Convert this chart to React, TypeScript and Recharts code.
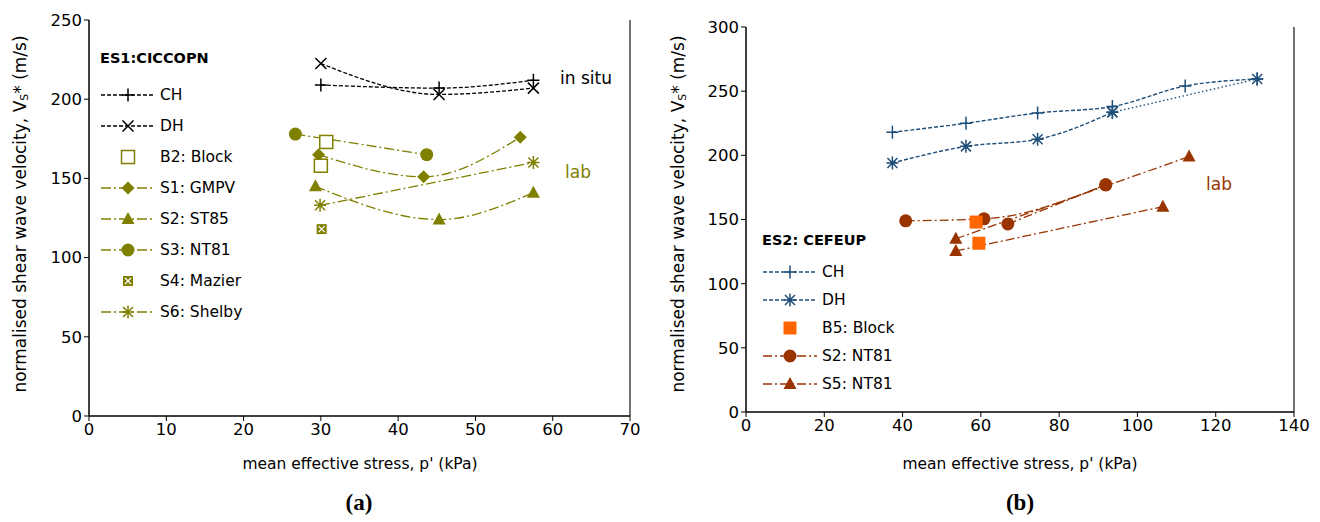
import React from "react";
import {
  ComposedChart,
  Line,
  XAxis,
  YAxis,
  ReferenceLine,
} from "recharts";

// ---------- data: chart (a) ES1:CICCOPN ----------
const ticksA_x = [0, 10, 20, 30, 40, 50, 60, 70];
const ticksA_y = [0, 50, 100, 150, 200, 250];

const a_CH = [
  { x: 30.0, y: 209 },
  { x: 45.3, y: 207 },
  { x: 57.5, y: 212 },
];
const a_DH = [
  { x: 30.0, y: 222.5 },
  { x: 45.3, y: 203 },
  { x: 57.5, y: 207 },
];
const a_B2 = [
  { x: 30.7, y: 173 },
  { x: 30.0, y: 158 },
];
const a_S1 = [
  { x: 29.7, y: 165 },
  { x: 43.3, y: 151 },
  { x: 55.8, y: 176 },
];
const a_S2 = [
  { x: 29.3, y: 145 },
  { x: 45.3, y: 124 },
  { x: 57.5, y: 141 },
];
const a_S3 = [
  { x: 26.7, y: 178 },
  { x: 43.7, y: 165 },
];
const a_S4 = [{ x: 30.1, y: 118 }];
const a_S6 = [
  { x: 29.9, y: 133 },
  { x: 57.5, y: 160 },
];

// ---------- data: chart (b) ES2: CEFEUP ----------
const ticksB_x = [0, 20, 40, 60, 80, 100, 120, 140];
const ticksB_y = [0, 50, 100, 150, 200, 250, 300];

const b_CH = [
  { x: 37.4, y: 218 },
  { x: 56.2, y: 225 },
  { x: 74.5, y: 233 },
  { x: 93.6, y: 238 },
  { x: 112.2, y: 254 },
  { x: 130.6, y: 259.5 },
];
const b_DH = [
  { x: 37.4, y: 194 },
  { x: 56.2, y: 207 },
  { x: 74.5, y: 212.5 },
  { x: 93.6, y: 233.5 },
];
const b_DH_end = [
  { x: 93.6, y: 233.5 },
  { x: 130.6, y: 259.5 },
];
const b_B5 = [
  { x: 58.8, y: 148 },
  { x: 59.5, y: 131.5 },
];
const b_S2a = [
  { x: 40.8, y: 149 },
  { x: 60.8, y: 150.5 },
  { x: 91.9, y: 177 },
];
const b_S2b = [
  { x: 66.9, y: 146.5 },
  { x: 91.9, y: 177 },
];
const b_S5a = [
  { x: 53.6, y: 135 },
  { x: 113.2, y: 199 },
];
const b_S5b = [
  { x: 53.6, y: 125.5 },
  { x: 106.5, y: 160 },
];

// ---------- styles ----------
const OLIVE = "#808000";
const NAVY = "#1F4E79";
const BROWN = "#993300";
const ORANGE = "#FF6600";
const FONT = "'DejaVu Sans', sans-serif";

const DASH_SITU = "4 2";
const DASH_LAB = "10 3 2 3";
const DASH_LAB_B = "9 3 2 3";

// ---------- markers ----------
type M = { cx: number; cy: number; c: string };

const Plus = ({ cx, cy, c }: M) => (
  <path d={`M${cx - 6},${cy}H${cx + 6}M${cx},${cy - 6.5}V${cy + 6.5}`} stroke={c} strokeWidth={1.5} fill="none" />
);
const Cross = ({ cx, cy, c }: M) => (
  <path
    d={`M${cx - 5.5},${cy - 5.5}L${cx + 5.5},${cy + 5.5}M${cx - 5.5},${cy + 5.5}L${cx + 5.5},${cy - 5.5}`}
    stroke={c}
    strokeWidth={1.5}
    fill="none"
  />
);
const Star = ({ cx, cy, c }: M) => (
  <path
    d={`M${cx - 6},${cy}H${cx + 6}M${cx},${cy - 6.5}V${cy + 6.5}M${cx - 5},${cy - 5}L${cx + 5},${cy + 5}M${cx - 5},${cy + 5}L${cx + 5},${cy - 5}`}
    stroke={c}
    strokeWidth={1.5}
    fill="none"
  />
);
const Dot = ({ cx, cy, c }: M) => <circle cx={cx} cy={cy} r={6.5} fill={c} />;
const Diamond = ({ cx, cy, c }: M) => (
  <path d={`M${cx},${cy - 6.5}L${cx + 6.5},${cy}L${cx},${cy + 6.5}L${cx - 6.5},${cy}Z`} fill={c} />
);
const Tri = ({ cx, cy, c }: M) => (
  <path d={`M${cx},${cy - 7}L${cx + 6.5},${cy + 5}L${cx - 6.5},${cy + 5}Z`} fill={c} />
);
const OpenSq = ({ cx, cy, c }: M) => (
  <rect x={cx - 6.5} y={cy - 6.5} width={13} height={13} fill="#fff" stroke={c} strokeWidth={1.5} />
);
const FillSq = ({ cx, cy, c }: M) => <rect x={cx - 6.5} y={cy - 6.5} width={13} height={13} fill={c} />;
const Mazier = ({ cx, cy, c }: M) => (
  <g>
    <rect x={cx - 5} y={cy - 5} width={10} height={10} fill={c} />
    <path
      d={`M${cx - 3},${cy - 3}L${cx + 3},${cy + 3}M${cx - 3},${cy + 3}L${cx + 3},${cy - 3}`}
      stroke="#fff"
      strokeWidth={1.3}
    />
  </g>
);

const dotOf = (Shape: (m: M) => React.ReactElement, c: string) => (p: any) =>
  p.cx == null ? <g key={p.index} /> : <g key={p.index}><Shape cx={p.cx} cy={p.cy} c={c} /></g>;

// ---------- legend ----------
type Item = { label: string; color: string; dash?: string; Shape: (m: M) => React.ReactElement; mc: string };

const legendA: Item[] = [
  { label: "CH", color: "#000", dash: DASH_SITU, Shape: Plus, mc: "#000" },
  { label: "DH", color: "#000", dash: DASH_SITU, Shape: Cross, mc: "#000" },
  { label: "B2: Block", color: OLIVE, Shape: OpenSq, mc: OLIVE },
  { label: "S1: GMPV", color: OLIVE, dash: DASH_LAB, Shape: Diamond, mc: OLIVE },
  { label: "S2: ST85", color: OLIVE, dash: DASH_LAB, Shape: Tri, mc: OLIVE },
  { label: "S3: NT81", color: OLIVE, dash: DASH_LAB, Shape: Dot, mc: OLIVE },
  { label: "S4: Mazier", color: OLIVE, Shape: Mazier, mc: OLIVE },
  { label: "S6: Shelby", color: OLIVE, dash: DASH_LAB, Shape: Star, mc: OLIVE },
];

const legendB: Item[] = [
  { label: "CH", color: NAVY, dash: DASH_SITU, Shape: Plus, mc: NAVY },
  { label: "DH", color: NAVY, dash: DASH_SITU, Shape: Star, mc: NAVY },
  { label: "B5: Block", color: ORANGE, Shape: FillSq, mc: ORANGE },
  { label: "S2: NT81", color: BROWN, dash: DASH_LAB_B, Shape: Dot, mc: BROWN },
  { label: "S5: NT81", color: BROWN, dash: DASH_LAB_B, Shape: Tri, mc: BROWN },
];

function LegendBox({ title, items, left, top, step }: { title: string; items: Item[]; left: number; top: number; step: number }) {
  return (
    <div style={{ position: "absolute", left, top, fontFamily: FONT, fontSize: 15.5, color: "#000" }}>
      <div style={{ fontWeight: "bold", fontSize: 14.5, height: 24, lineHeight: "24px", marginBottom: step - 22 }}>{title}</div>
      {items.map((it) => (
        <div key={it.label} style={{ display: "flex", alignItems: "center", height: step }}>
          <svg width={56} height={16} style={{ display: "block" }}>
            {it.dash && <line x1={1} y1={8} x2={55} y2={8} stroke={it.color} strokeWidth={1.3} strokeDasharray={it.dash} />}
            <it.Shape cx={28} cy={8} c={it.mc} />
          </svg>
          <span style={{ marginLeft: 4 }}>{it.label}</span>
        </div>
      ))}
    </div>
  );
}

// ---------- axis label ----------
const yLabel = (x: number, cy: number) => () => (
  <text x={x} y={cy} transform={`rotate(-90 ${x} ${cy})`} textAnchor="middle" dominantBaseline="central" fontFamily={FONT} fontSize={17} fill="#000">
    normalised shear wave velocity,  V
    <tspan fontSize={11} dy={4}>S</tspan>
    <tspan dy={-4}>* (m/s)</tspan>
  </text>
);

const tickStyle = { fontFamily: FONT, fontSize: 16.5, fill: "#000" };

const Abs = ({ left, top, children, style }: any) => (
  <div style={{ position: "absolute", left, top, whiteSpace: "nowrap", ...style }}>{children}</div>
);

export default function App() {
  return (
    <div style={{ position: "absolute", left: 0, top: 0, width: 1320, height: 522, background: "#fff" }}>
      {/* chart (a) */}
      <div style={{ position: "absolute", left: 0, top: 0 }}>
        <ComposedChart width={660} height={446} margin={{ top: 20, right: 30, left: 39, bottom: 0 }}>
          <XAxis
            type="number"
            dataKey="x"
            domain={[0, 70]}
            ticks={ticksA_x}
            tick={tickStyle}
            tickSize={5}
            height={30}
            axisLine={{ stroke: "#000", strokeWidth: 1.5 }}
            tickLine={{ stroke: "#000" }}
          />
          <YAxis
            type="number"
            dataKey="y"
            domain={[0, 250]}
            ticks={ticksA_y}
            tick={tickStyle}
            tickSize={5}
            width={50}
            axisLine={{ stroke: "#000", strokeWidth: 1.5 }}
            tickLine={{ stroke: "#000" }}
            label={{ content: yLabel(20, 214) }}
          />
          <ReferenceLine x={70} stroke="#444" strokeWidth={1.5} />
          <Line data={a_CH} dataKey="y" type="monotone" stroke="#000" strokeWidth={1.3} strokeDasharray={DASH_SITU} dot={dotOf(Plus, "#000")} isAnimationActive={false} />
          <Line data={a_DH} dataKey="y" type="monotone" stroke="#000" strokeWidth={1.3} strokeDasharray={DASH_SITU} dot={dotOf(Cross, "#000")} isAnimationActive={false} />
          <Line data={a_S3} dataKey="y" type="monotone" stroke={OLIVE} strokeWidth={1.3} strokeDasharray={DASH_LAB} dot={dotOf(Dot, OLIVE)} isAnimationActive={false} />
          <Line data={a_S1} dataKey="y" type="monotone" stroke={OLIVE} strokeWidth={1.3} strokeDasharray={DASH_LAB} dot={dotOf(Diamond, OLIVE)} isAnimationActive={false} />
          <Line data={a_S2} dataKey="y" type="monotone" stroke={OLIVE} strokeWidth={1.3} strokeDasharray={DASH_LAB} dot={dotOf(Tri, OLIVE)} isAnimationActive={false} />
          <Line data={a_S6} dataKey="y" type="monotone" stroke={OLIVE} strokeWidth={1.3} strokeDasharray={DASH_LAB} dot={dotOf(Star, OLIVE)} isAnimationActive={false} />
          <Line data={a_B2} dataKey="y" stroke="none" dot={dotOf(OpenSq, OLIVE)} isAnimationActive={false} />
          <Line data={a_S4} dataKey="y" stroke="none" dot={dotOf(Mazier, OLIVE)} isAnimationActive={false} />
        </ComposedChart>
      </div>

      {/* chart (b) */}
      <div style={{ position: "absolute", left: 660, top: 0 }}>
        <ComposedChart width={660} height={442} margin={{ top: 27, right: 26, left: 36, bottom: 0 }}>
          <XAxis
            type="number"
            dataKey="x"
            domain={[0, 140]}
            ticks={ticksB_x}
            tick={tickStyle}
            tickSize={5}
            height={30}
            axisLine={{ stroke: "#000", strokeWidth: 1.5 }}
            tickLine={{ stroke: "#000" }}
          />
          <YAxis
            type="number"
            dataKey="y"
            domain={[0, 300]}
            ticks={ticksB_y}
            tick={tickStyle}
            tickSize={5}
            width={50}
            axisLine={{ stroke: "#000", strokeWidth: 1.5 }}
            tickLine={{ stroke: "#000" }}
            label={{ content: yLabel(18, 214) }}
          />
          <ReferenceLine x={140} stroke="#444" strokeWidth={1.5} />
          <Line data={b_CH} dataKey="y" type="monotone" stroke={NAVY} strokeWidth={1.4} strokeDasharray={DASH_SITU} dot={dotOf(Plus, NAVY)} isAnimationActive={false} />
          <Line data={b_DH} dataKey="y" type="monotone" stroke={NAVY} strokeWidth={1.4} strokeDasharray={DASH_SITU} dot={dotOf(Star, NAVY)} isAnimationActive={false} />
          <Line data={b_DH_end} dataKey="y" type="monotone" stroke={NAVY} strokeWidth={1.4} strokeDasharray="1.5 2.5" dot={dotOf(Star, NAVY)} isAnimationActive={false} />
          <Line data={b_S2a} dataKey="y" type="monotone" stroke={BROWN} strokeWidth={1.3} strokeDasharray={DASH_LAB_B} dot={dotOf(Dot, BROWN)} isAnimationActive={false} />
          <Line data={b_S2b} dataKey="y" type="monotone" stroke={BROWN} strokeWidth={1.3} strokeDasharray={DASH_LAB_B} dot={dotOf(Dot, BROWN)} isAnimationActive={false} />
          <Line data={b_S5a} dataKey="y" type="monotone" stroke={BROWN} strokeWidth={1.3} strokeDasharray={DASH_LAB_B} dot={dotOf(Tri, BROWN)} isAnimationActive={false} />
          <Line data={b_S5b} dataKey="y" type="monotone" stroke={BROWN} strokeWidth={1.3} strokeDasharray={DASH_LAB_B} dot={dotOf(Tri, BROWN)} isAnimationActive={false} />
          <Line data={b_B5} dataKey="y" stroke="none" dot={dotOf(FillSq, ORANGE)} isAnimationActive={false} />
        </ComposedChart>
      </div>

      {/* legends and annotations */}
      <LegendBox title="ES1:CICCOPN" items={legendA} left={100} top={46} step={31} />
      <LegendBox title="ES2: CEFEUP" items={legendB} left={762} top={228} step={28} />

      <Abs left={560} top={68} style={{ fontFamily: FONT, fontSize: 17 }}>in situ</Abs>
      <Abs left={565} top={162} style={{ fontFamily: FONT, fontSize: 17, color: OLIVE }}>lab</Abs>
      <Abs left={1206} top={174} style={{ fontFamily: FONT, fontSize: 17, color: BROWN }}>lab</Abs>

      <Abs left={0} top={455} style={{ width: 720, textAlign: "center", fontFamily: FONT, fontSize: 15.5 }}>
        mean effective stress,  p' (kPa)
      </Abs>
      <Abs left={746} top={455} style={{ width: 548, textAlign: "center", fontFamily: FONT, fontSize: 15.5 }}>
        mean effective stress,  p' (kPa)
      </Abs>
      <Abs left={0} top={490} style={{ width: 718, textAlign: "center", fontFamily: "'Liberation Serif', serif", fontWeight: "bold", fontSize: 23 }}>
        (a)
      </Abs>
      <Abs left={746} top={490} style={{ width: 548, textAlign: "center", fontFamily: "'Liberation Serif', serif", fontWeight: "bold", fontSize: 23 }}>
        (b)
      </Abs>
    </div>
  );
}
